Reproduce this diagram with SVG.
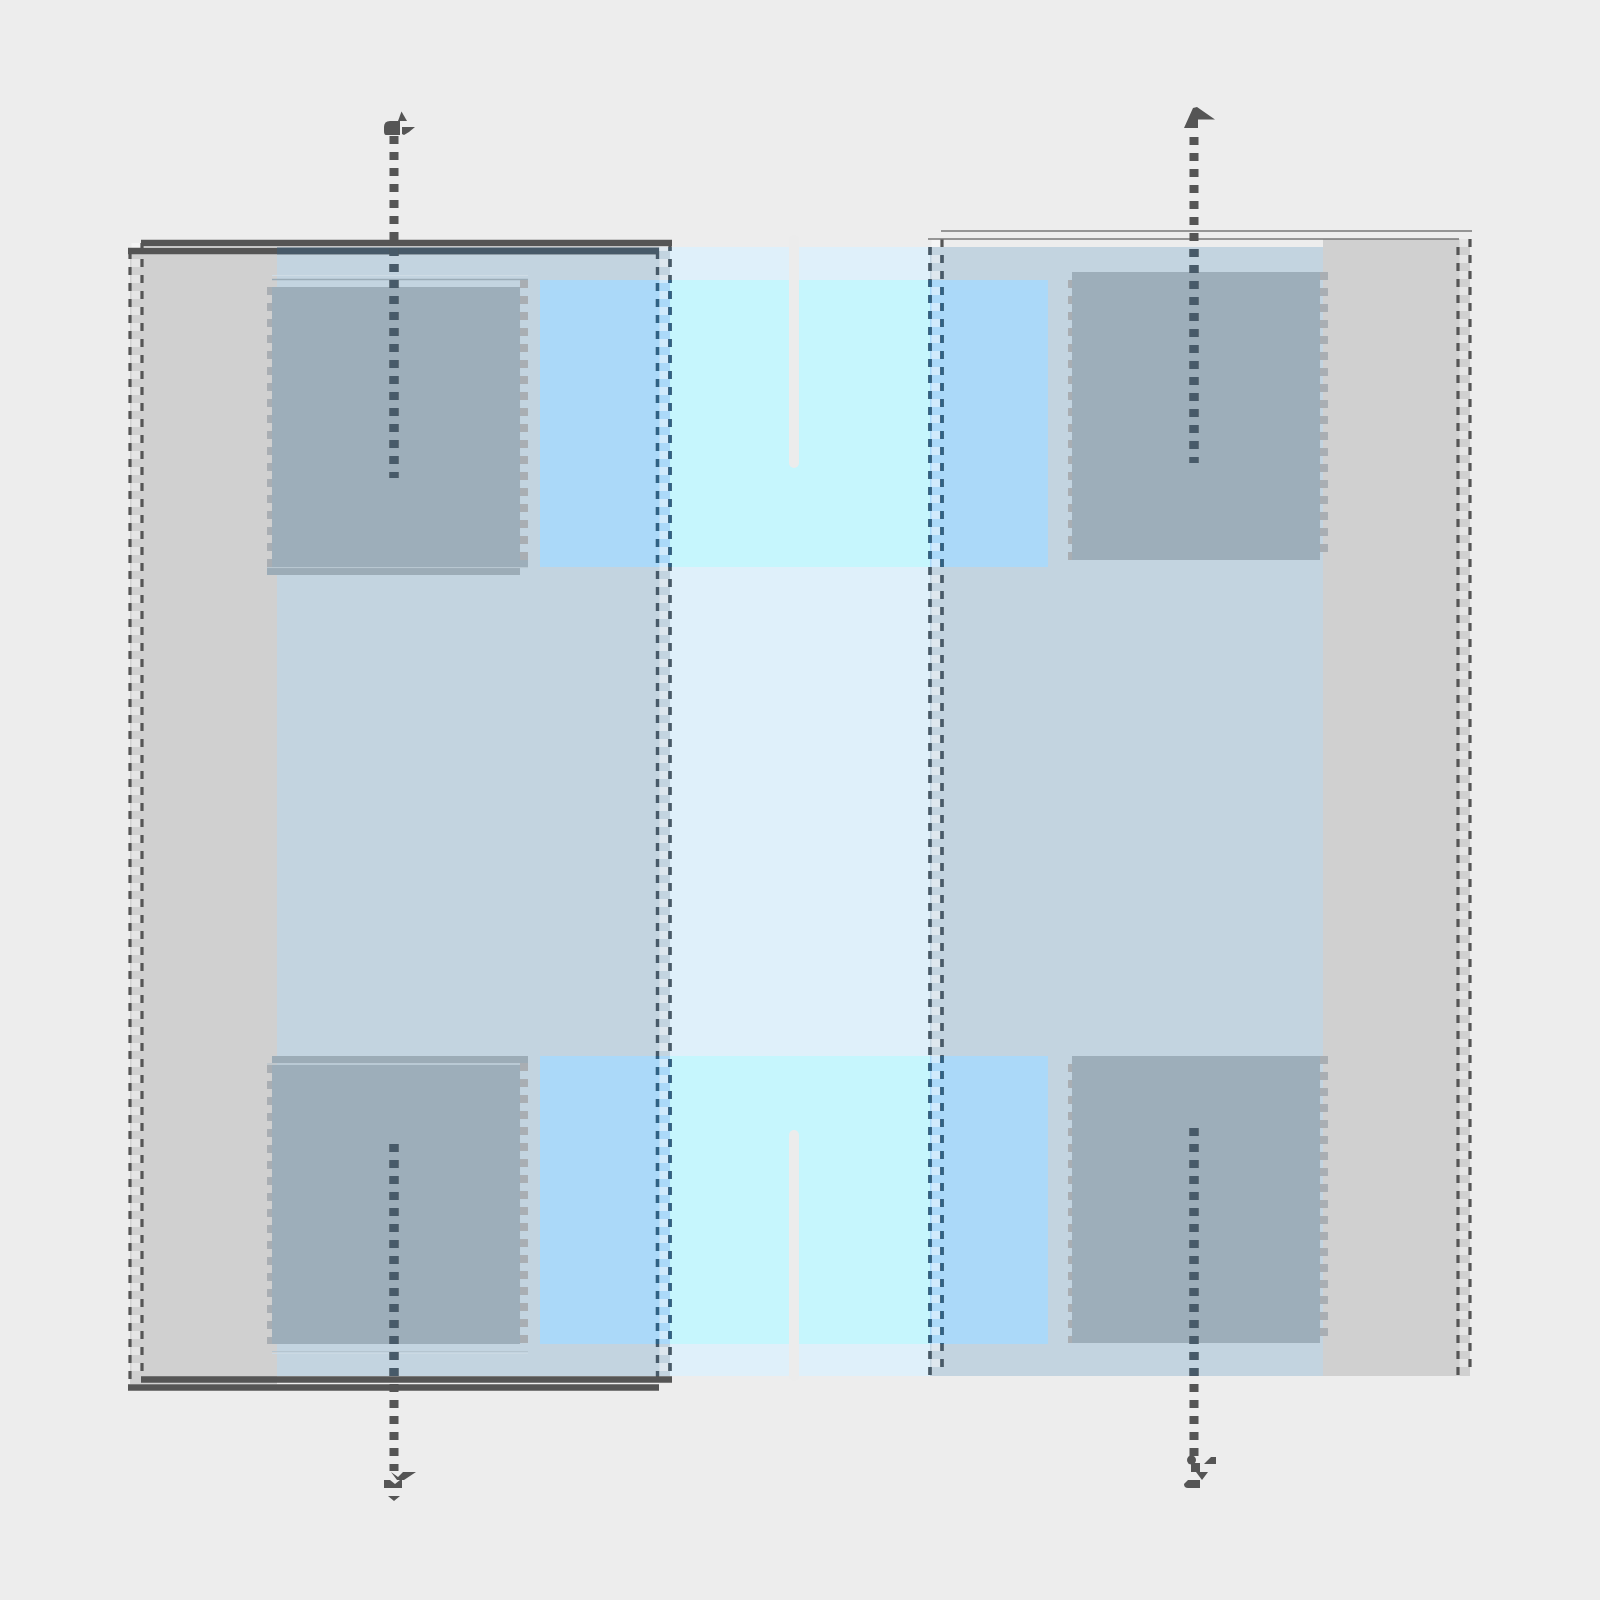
<svg xmlns="http://www.w3.org/2000/svg" width="1600" height="1600" viewBox="0 0 1600 1600">
<style>
.gray{fill:#d0d0d0}
.bgp{fill:#c3d4e0}
.ctr{fill:#dff0fa}
.blue{fill:#abd9f9}
.cyan{fill:#c6f6fd}
.sq{fill:#9daeba}
.sqb{fill:#9cacb7}
.sqd{fill:none;stroke:#a9aeb3;stroke-dasharray:8 8}
.gap{stroke:#ececec;stroke-width:10;stroke-linecap:round}
.zip{fill:none;stroke:#ffffff;stroke-opacity:.45;stroke-width:9;stroke-dasharray:8 8}
.dl{fill:none;stroke:currentColor;stroke-width:3.2;stroke-dasharray:8 8}
.off{stroke-dashoffset:8}
.bar{stroke:currentColor;stroke-width:6.5}
.thin{stroke:#777777;stroke-width:1.5}
.arr{fill:none;stroke:currentColor;stroke-width:9;stroke-dasharray:8 8}
.hd{fill:currentColor}
</style>
<defs>
<clipPath id="cp"><rect x="277" y="247" width="1046" height="1129"/></clipPath>
<clipPath id="cb"><rect x="540" y="280" width="508" height="287"/><rect x="540" y="1056" width="508" height="288"/></clipPath>
</defs>
<rect width="1600" height="1600" fill="#ededed"/>

<g id="left-panel">
<rect class="gray" x="130" y="251" width="147" height="1133"/>
<rect class="bgp" x="277" y="247" width="393" height="1129"/>
</g>
<g id="center-column">
<rect class="ctr" x="670" y="247" width="260" height="1129"/>
</g>
<g id="right-panel">
<rect class="bgp" x="930" y="247" width="393" height="1129"/>
<rect class="gray" x="1323" y="239" width="147" height="1137"/>
</g>
<g id="blue-top">
<rect class="blue" x="540" y="280" width="508" height="287"/>
<rect class="cyan" x="670" y="280" width="260" height="287"/>
</g>
<g id="blue-bottom">
<rect class="blue" x="540" y="1056" width="508" height="288"/>
<rect class="cyan" x="670" y="1056" width="260" height="288"/>
</g>

<g id="sq-tl">
<line x1="272" y1="275.5" x2="528" y2="275.5" stroke="#cfdce5" stroke-width="1"/>
<line x1="272" y1="279.5" x2="528" y2="279.5" stroke="#9aabb6" stroke-width="1.5"/>
<rect class="sq" x="272" y="287" width="248" height="280"/>
<rect class="sq" x="520" y="560" width="8" height="7"/>
<rect class="sqb" x="267" y="568" width="253" height="7"/>
<line x1="267" y1="567.6" x2="528" y2="567.6" stroke="#b7c6d0" stroke-width="1"/>
<line class="sqd" x1="269.5" y1="287" x2="269.5" y2="575" stroke-width="5"/>
<line class="sqd" x1="524" y1="280" x2="524" y2="560" stroke-width="8"/>
</g>
<g id="sq-bl">
<rect class="sqb" x="272" y="1056" width="256" height="7"/>
<line x1="267" y1="1064" x2="528" y2="1064" stroke="#b0bfc9" stroke-width="1"/>
<rect class="sq" x="272" y="1065" width="248" height="279"/>
<line class="sqd" x1="269.5" y1="1065" x2="269.5" y2="1344" stroke-width="5"/>
<line class="sqd" x1="524" y1="1063" x2="524" y2="1344" stroke-width="8"/>
<line x1="272" y1="1351.5" x2="528" y2="1351.5" stroke="#b5c5d0" stroke-width="1"/>
<line x1="272" y1="1353.5" x2="528" y2="1353.5" stroke="#cbd9e3" stroke-width="1"/>
</g>
<g id="sq-tr">
<rect class="sq" x="1072" y="272" width="248" height="288"/>
<line class="sqd" x1="1070" y1="280" x2="1070" y2="560" stroke-width="4"/>
<line class="sqd" x1="1324" y1="272" x2="1324" y2="552" stroke-width="8"/>
</g>
<g id="sq-br">
<rect class="sq" x="1072" y="1056" width="248" height="287"/>
<line class="sqd" x1="1070" y1="1064" x2="1070" y2="1343" stroke-width="4"/>
<line class="sqd" x1="1324" y1="1056" x2="1324" y2="1336" stroke-width="8"/>
</g>

<g id="center-gaps">
<line class="gap" x1="794" y1="240" x2="794" y2="463"/>
<line class="gap" x1="794" y1="1135" x2="794" y2="1376"/>
</g>

<g id="zip">
<line class="zip" x1="136" y1="243" x2="136" y2="1379"/>
<line class="zip" x1="664" y1="243" x2="664" y2="1379"/>
<line class="zip off" x1="936" y1="231" x2="936" y2="1368"/>
<line class="zip off" x1="1464" y1="231" x2="1464" y2="1368"/>
</g>

<g style="color:#555555">
<g id="frame">
<line class="dl" x1="130" y1="251" x2="130" y2="1387"/>
<line class="dl" x1="657.5" y1="251" x2="657.5" y2="1387"/>
<line class="dl" x1="142" y1="243" x2="142" y2="1379"/>
<line class="dl" x1="670" y1="243" x2="670" y2="1379"/>
<line class="bar" x1="141" y1="243" x2="672" y2="243"/>
<line class="bar" x1="128" y1="251" x2="659" y2="251"/>
<line class="bar" x1="141" y1="1379.5" x2="672" y2="1379.5"/>
<line class="bar" x1="128" y1="1387.5" x2="659" y2="1387.5"/>
<line class="dl off" x1="930" y1="239" x2="930" y2="1376"/>
<line class="dl off" x1="1458" y1="239" x2="1458" y2="1376"/>
<line class="dl off" x1="942" y1="231" x2="942" y2="1368"/>
<line class="dl off" x1="1470" y1="231" x2="1470" y2="1368"/>
</g>
</g>
<g id="frame-thin">
<line class="thin" x1="941" y1="231" x2="1472" y2="231"/>
<line class="thin" x1="928" y1="239" x2="1459" y2="239"/>
</g>
<use href="#frame" clip-path="url(#cp)" style="color:#475a69"/>
<use href="#frame" clip-path="url(#cb)" style="color:#2f6285"/>

<g style="color:#555555">
<g id="connectors">
<g id="edge-tl">
<path class="arr" d="M394,136V478"/>
<path class="hd" d="M384,127Q384,121 390,121L400,121L400,135L386,135Q384,135 384,131Z"/>
<path class="hd" d="M398,121L401.5,111.5L407,121Z"/>
<path class="hd" d="M402,127L415,127L409,132L404,135L402,134Z"/>
</g>
<g id="edge-tr">
<path class="arr" d="M1194,137V463"/>
<path class="hd" d="M1184,128L1193,108L1197,107L1215,119.5L1198,119.5L1198,128Z"/>
</g>
<g id="edge-bl">
<path class="arr" d="M394,1144V1471"/>
<path class="hd" d="M391,1472L398,1477L403,1472L416,1472L404,1480L397,1480Z"/>
<path class="hd" d="M384,1480L390,1480L395,1484L400,1480L402,1480L402,1488L384,1488Z"/>
<path class="hd" d="M388,1496L400,1496L394,1501Z"/>
</g>
<g id="edge-br">
<path class="arr" d="M1194,1128V1456"/>
<circle class="hd" cx="1191.5" cy="1460" r="4.5"/>
<path class="hd" d="M1204,1464L1211,1457L1216,1457L1216,1464Z"/>
<rect class="hd" x="1191" y="1463" width="9" height="9"/>
<path class="hd" d="M1196,1472L1208,1472L1202,1480Z"/>
<path class="hd" d="M1188,1480L1200,1480L1200,1488L1188,1488Q1184,1488 1184,1484Z"/>
</g>
</g>
</g>
<use href="#connectors" clip-path="url(#cp)" style="color:#475a69"/>
</svg>
